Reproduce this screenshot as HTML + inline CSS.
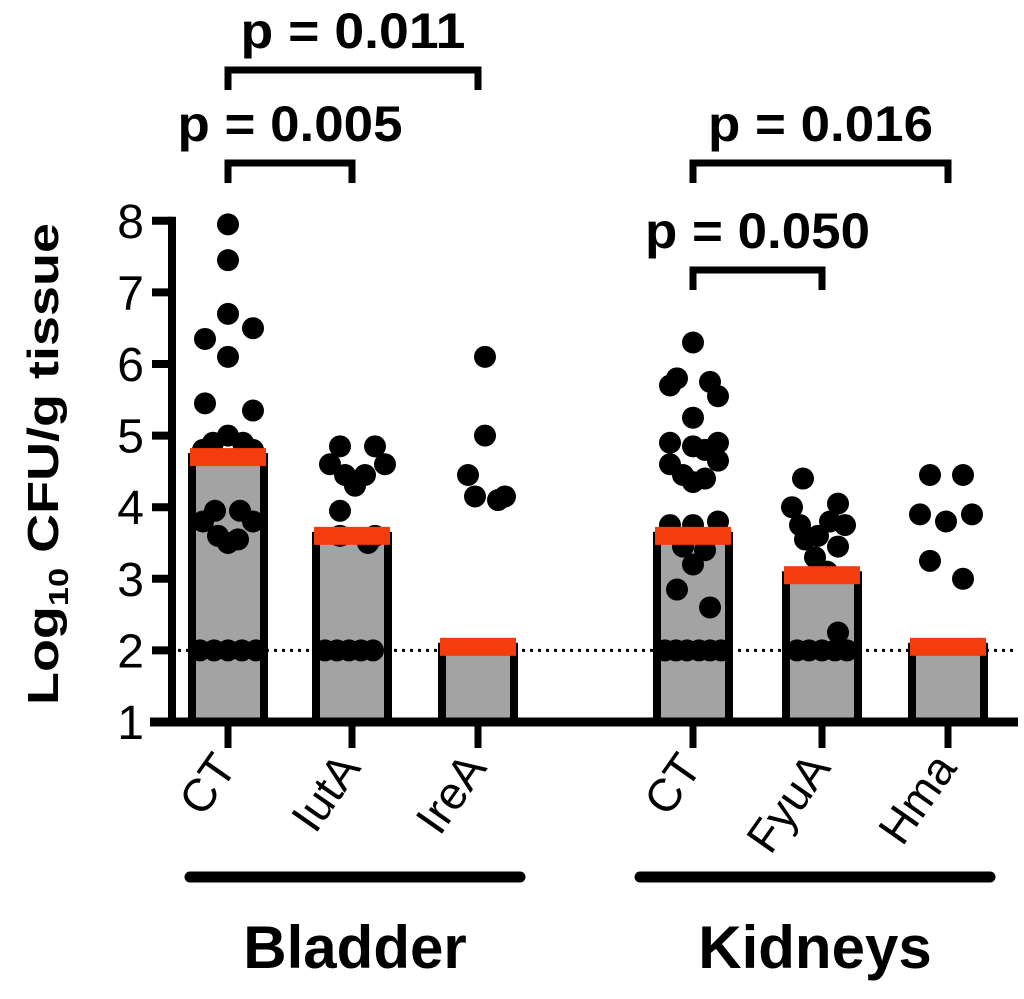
<!DOCTYPE html>
<html><head><meta charset="utf-8"><style>
html,body{margin:0;padding:0;background:#fff;}
svg{display:block;font-family:"Liberation Sans",Arial,sans-serif;}
</style></head><body>
<svg width="1024" height="999" viewBox="0 0 1024 999">
<g id="plot"></g>
<text transform="translate(58,464) rotate(-90)" text-anchor="middle" font-size="44" font-weight="bold" textLength="482" lengthAdjust="spacingAndGlyphs">Log<tspan font-size="28" dy="10">10</tspan><tspan dy="-10"> CFU/g tissue</tspan></text>
</svg>
<script>
const categories=["CT","IutA","IreA","CT","FyuA","Hma"];
const centers=[228,352,478,693,822,948];
const medians=[4.7,3.6,2.05,3.6,3.05,2.05];
const yTicks=[1,2,3,4,5,6,7,8];
const detectionLimit=2;
const dotsCT1=[[7.95,0],[7.45,0],[6.7,0],[6.5,25],[6.35,-23],[6.1,0],[5.45,-23],[5.35,25],[5.0,0],[4.9,-15],[4.9,15],[4.8,-25],[4.8,25],[3.95,-13],[3.95,12],[3.8,-25],[3.8,25],[3.6,-10],[3.55,10],[3.5,0],[2,-28],[2,-14],[2,0],[2,14],[2,28]];
const dotsIutA=[[4.85,-12],[4.85,23],[4.6,-22],[4.6,33],[4.45,-7],[4.45,13],[4.3,3],[3.95,-12],[3.6,-12],[3.6,23],[3.5,16],[2,-27],[2,-15],[2,-3],[2,9],[2,21]];
const dotsIreA=[[6.1,7],[5.0,7],[4.45,-10],[4.15,-3],[4.1,20],[4.15,27]];
const dotsCT2=[[6.3,0],[5.8,-16],[5.7,-23],[5.75,17],[5.55,25],[5.25,0],[4.9,-23],[4.9,25],[4.85,0],[4.8,12],[4.6,-23],[4.65,25],[4.45,-10],[4.35,0],[4.4,12],[3.75,-23],[3.75,0],[3.8,25],[3.45,-10],[3.4,12],[3.2,0],[2.85,-16],[2.6,17],[2,-28],[2,-17],[2,-6],[2,6],[2,17],[2,28]];
const dotsFyuA=[[4.4,-19],[4.0,-30],[4.05,16],[3.75,-22],[3.8,8],[3.75,23],[3.55,-17],[3.6,-4],[3.45,16],[3.3,-7],[3.1,5],[2.25,16],[2,-25],[2,-13],[2,0],[2,13],[2,25]];
const dotsHma=[[4.45,-18],[4.45,15],[3.9,-28],[3.9,24],[3.8,-2],[3.25,-18],[3.0,15]];
const allDots=[dotsCT1,dotsIutA,dotsIreA,dotsCT2,dotsFyuA,dotsHma];
const brackets=[[0,2,"p = 0.011",70],[0,1,"p = 0.005",163],[3,5,"p = 0.016",163],[3,4,"p = 0.050",270]];
const groups=[["Bladder",190,520],["Kidneys",640,990]];

const NS="http://www.w3.org/2000/svg";
const g=document.getElementById('plot');
const Y=v=>722-(v-1)*71.6;
function mk(t,a,p){const e=document.createElementNS(NS,t);for(const k in a)e.setAttribute(k,a[k]);(p||g).appendChild(e);return e;}
categories.forEach((c,i)=>{
  const b=mk('rect',{x:centers[i]-36,y:Y(medians[i]),width:72,height:722-Y(medians[i]),fill:'#a3a3a3',stroke:'#000','stroke-width':8});
  
  
});
const dl=mk('line',{x1:178,x2:1015,y1:Y(detectionLimit),y2:Y(detectionLimit),stroke:'#000','stroke-width':3,'stroke-dasharray':'3 5'});


allDots.forEach((ds,i)=>ds.forEach(d=>{
  const c=mk('circle',{cx:centers[i]+d[1],cy:Y(d[0]),r:11,fill:'#000'});
  
  
}));
categories.forEach((c,i)=>{
  const m=mk('rect',{x:centers[i]-38,y:Y(medians[i])-9,width:76,height:18,fill:'#f53c0c'});
  
  
});
const ya=mk('line',{x1:172,x2:172,y1:Y(8)-4,y2:726,stroke:'#000','stroke-width':8});


const xa=mk('line',{x1:150,x2:1018,y1:722,y2:722,stroke:'#000','stroke-width':9});


yTicks.forEach(v=>{
  mk('line',{x1:152,x2:172,y1:Y(v),y2:Y(v),stroke:'#000','stroke-width':8});
  const t=mk('text',{x:144,y:Y(v)+17,'text-anchor':'end','font-size':48});
  t.textContent=v;
  
  
});
categories.forEach((c,i)=>{
  mk('line',{x1:centers[i],x2:centers[i],y1:722,y2:748,stroke:'#000','stroke-width':7});
  const t=mk('text',{transform:`translate(${centers[i]+10},${768}) rotate(-55)`,'text-anchor':'end','font-size':46});
  t.textContent=c;
  
  
});
brackets.forEach(b=>{
  const x1=centers[b[0]],x2=centers[b[1]],y=b[3];
  const p=mk('path',{d:`M${x1},${y+20}V${y}H${x2}V${y+20}`,fill:'none',stroke:'#000','stroke-width':7});
  
  
  const t=mk('text',{x:(x1+x2)/2+(b[0]==0&&b[1]==2?0:0),y:y-22,'text-anchor':'middle','font-size':50,'font-weight':'bold',textLength:225,lengthAdjust:'spacingAndGlyphs'});
  t.textContent=b[2];
  
  
});
groups.forEach(gr=>{
  const l=mk('line',{x1:gr[1],x2:gr[2],y1:877,y2:877,stroke:'#000','stroke-width':11,'stroke-linecap':'round'});
  
  
  const t=mk('text',{x:(gr[1]+gr[2])/2,y:968,'text-anchor':'middle','font-size':60,'font-weight':'bold'});
  t.textContent=gr[0];
  
  
});
</script>
</body></html>
